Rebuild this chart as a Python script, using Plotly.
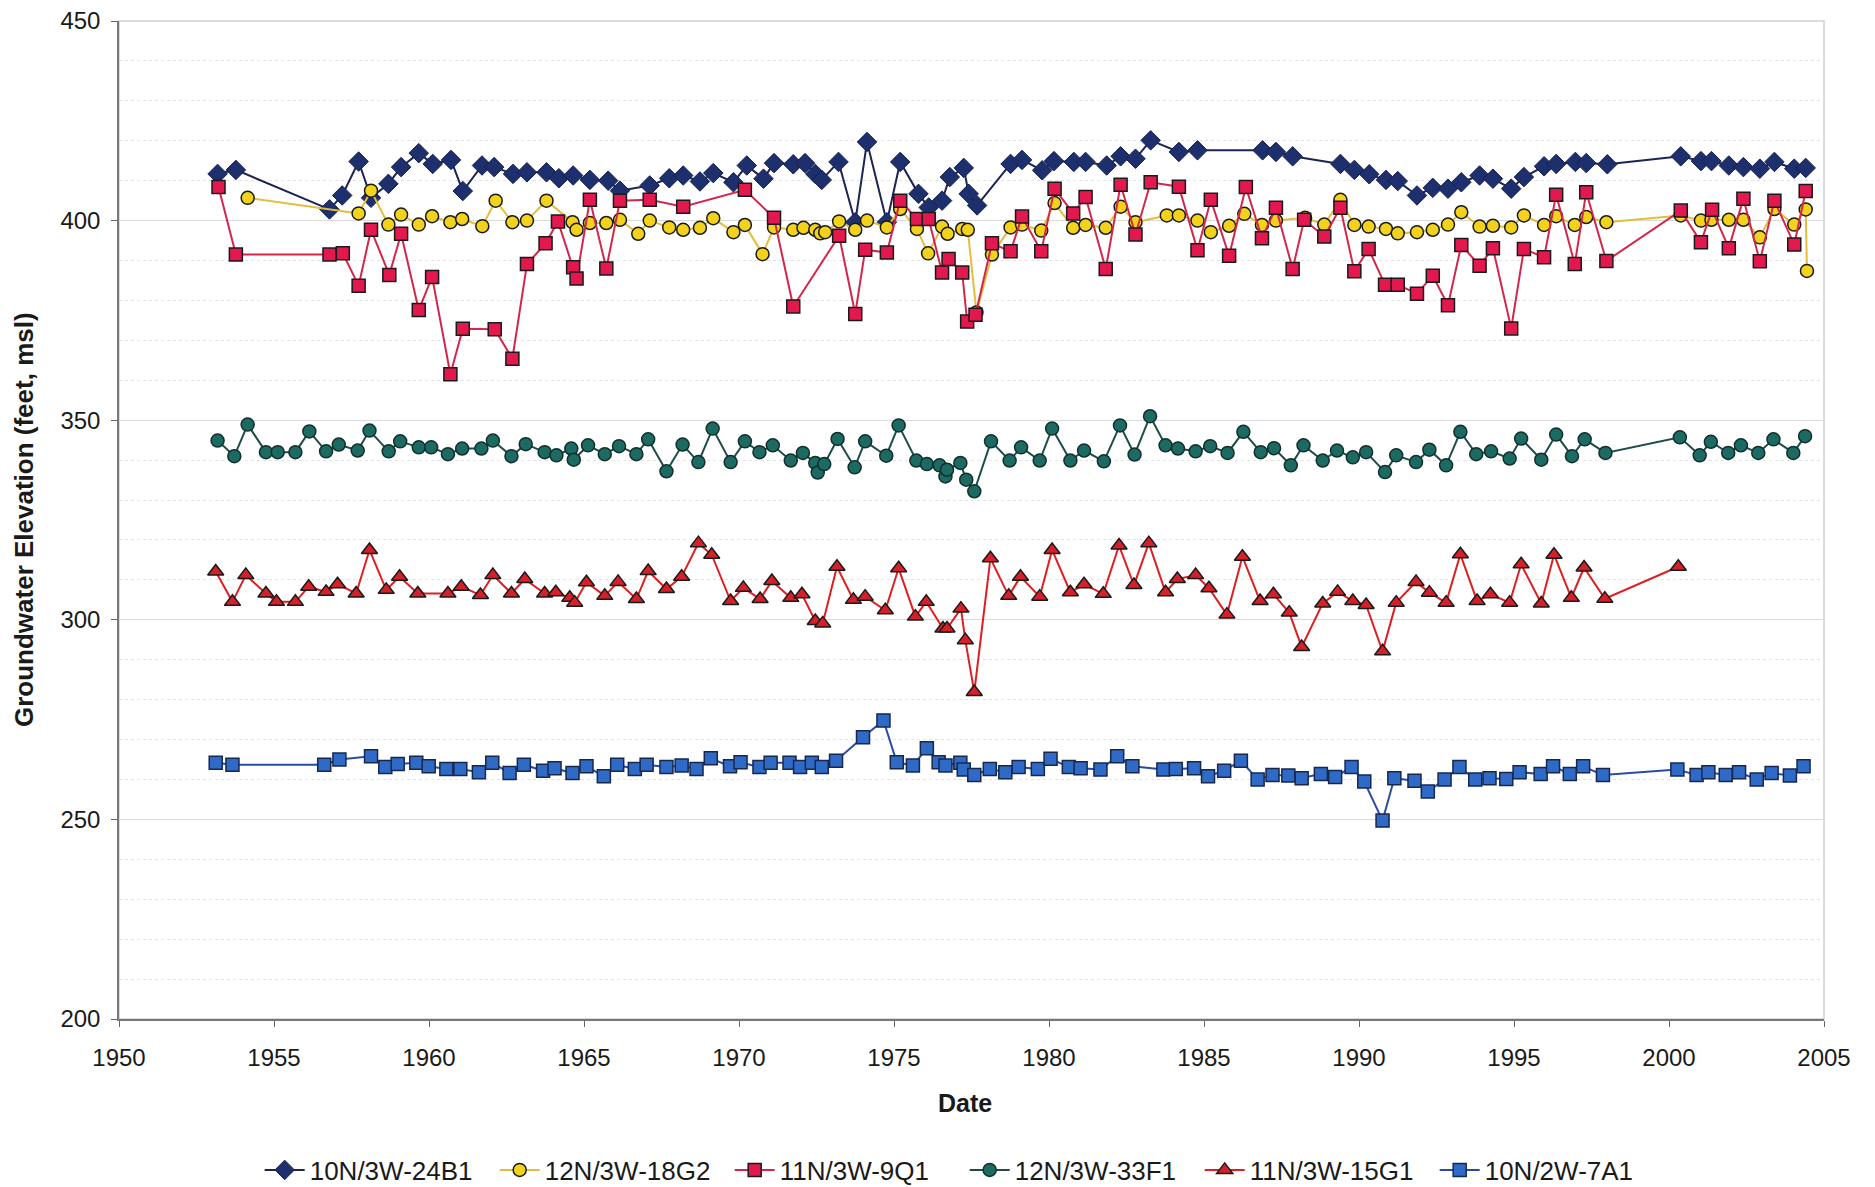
import plotly.graph_objects as go

# (year offset from 1950, elevation ft msl)
well_24B1 = [(3.18,411.7),(3.77,412.7),(6.79,402.8),(7.2,406.3),(7.73,414.8),(8.13,405.7),(8.69,409.2),(9.1,413.4),(9.67,416.9),(10.12,414.2),(10.71,415.2),(11.09,407.4),(11.71,413.8),(12.1,413.4),(12.71,411.7),(13.16,412.1),(13.79,412.1),(14.19,410.6),(14.65,411.3),(15.19,410.2),(15.78,410.0),(16.16,407.5),(17.12,408.8),(17.75,410.6),(18.2,411.3),(18.74,409.8),(19.17,411.9),(19.82,409.6),(20.25,413.8),(20.79,410.5),(21.13,414.4),(21.75,414.1),(22.13,414.4),(22.46,411.7),(22.67,410.2),(23.21,414.7),(23.75,399.6),(24.13,419.7),(24.77,399.6),(25.2,414.7),(25.79,406.7),(26.12,403.3),(26.55,405.0),(26.8,410.9),(27.25,413.2),(27.41,406.7),(27.68,403.8),(28.76,414.2),(29.13,415.2),(29.78,412.6),(30.16,414.9),(30.8,414.7),(31.18,414.7),(31.86,413.8),(32.31,416.1),(32.79,415.5),(33.28,420.1),(34.19,417.2),(34.79,417.6),(36.89,417.6),(37.32,417.2),(37.86,416.1),(39.4,414.2),(39.85,412.7),(40.33,411.6),(40.87,410.2),(41.25,409.9),(41.87,406.3),(42.38,408.2),(42.87,408.0),(43.3,409.6),(43.89,411.3),(44.32,410.5),(44.91,408.0),(45.32,410.9),(45.97,413.6),(46.36,414.2),(46.98,414.7),(47.33,414.4),(48.01,414.1),(50.38,416.1),(51.03,414.9),(51.37,414.9),(51.93,413.8),(52.4,413.4),(52.93,413.0),(53.4,414.7),(54.04,413.0),(54.41,413.2)]

well_18G2 = [(4.15,405.7),(7.73,401.8),(8.13,407.5),(8.69,399.0),(9.1,401.5),(9.67,399.0),(10.1,401.1),(10.69,399.6),(11.07,400.4),(11.72,398.6),(12.15,405.0),(12.69,399.6),(13.16,400.0),(13.79,405.0),(14.63,399.6),(14.76,397.7),(15.19,399.4),(15.72,399.4),(16.16,400.2),(16.75,396.7),(17.12,400.0),(17.75,398.3),(18.2,397.7),(18.74,398.2),(19.17,400.6),(19.82,397.1),(20.19,398.9),(20.76,391.6),(21.13,398.3),(21.75,397.7),(22.08,398.2),(22.46,397.7),(22.62,396.8),(22.78,397.1),(23.23,399.8),(23.75,397.7),(24.13,400.0),(24.77,398.3),(25.2,402.9),(25.74,397.9),(26.1,391.8),(26.55,398.5),(26.73,396.7),(27.2,397.9),(27.38,397.7),(27.66,377.0),(28.16,391.5),(28.76,398.3),(29.13,399.0),(29.75,397.5),(30.18,404.4),(30.78,398.2),(31.18,398.9),(31.83,398.2),(32.31,403.5),(32.79,399.6),(33.8,401.3),(34.19,401.3),(34.79,400.0),(35.22,397.1),(35.81,398.7),(36.3,401.7),(36.87,398.9),(37.32,400.0),(38.26,400.7),(38.88,399.0),(39.4,405.2),(39.85,398.9),(40.31,398.5),(40.87,397.9),(41.25,396.8),(41.87,397.1),(42.38,397.7),(42.87,399.0),(43.3,402.1),(43.89,398.5),(44.32,398.7),(44.91,398.3),(45.32,401.3),(45.97,398.9),(46.36,401.1),(46.96,398.9),(47.33,400.9),(47.98,399.6),(50.38,401.3),(51.03,400.0),(51.37,400.2),(51.93,400.2),(52.4,400.2),(52.93,395.8),(53.4,402.9),(54.04,399.0),(54.41,402.8),(54.45,387.4)]

well_9Q1 = [(3.21,408.4),(3.77,391.5),(6.79,391.5),(7.22,391.8),(7.73,383.7),(8.13,397.7),(8.72,386.4),(9.1,396.7),(9.67,377.6),(10.1,385.9),(10.69,361.5),(11.09,372.9),(12.12,372.8),(12.69,365.4),(13.16,389.1),(13.76,394.3),(14.16,399.8),(14.65,388.3),(14.76,385.5),(15.19,405.2),(15.72,388.0),(16.16,405.0),(17.12,405.2),(18.2,403.5),(20.19,407.7),(21.13,400.7),(21.75,378.5),(23.23,396.2),(23.75,376.6),(24.07,392.7),(24.77,392.0),(25.2,405.0),(25.74,400.4),(26.12,400.4),(26.55,387.0),(26.76,390.4),(27.2,387.0),(27.36,374.7),(27.63,376.4),(28.16,394.3),(28.76,392.3),(29.13,401.0),(29.75,392.3),(30.18,408.0),(30.78,401.8),(31.18,405.9),(31.83,387.9),(32.31,409.0),(32.79,396.5),(33.28,409.6),(34.19,408.5),(34.79,392.6),(35.22,405.2),(35.81,391.2),(36.35,408.4),(36.87,395.6),(37.32,403.2),(37.86,387.9),(38.23,400.2),(38.88,396.0),(39.4,403.2),(39.85,387.3),(40.31,392.9),(40.84,383.9),(41.25,383.9),(41.87,381.7),(42.38,386.2),(42.87,378.8),(43.3,393.9),(43.89,388.7),(44.32,393.1),(44.91,373.0),(45.32,392.9),(45.97,390.8),(46.36,406.5),(46.96,389.1),(47.33,407.1),(47.98,389.9),(50.38,402.5),(51.03,394.6),(51.39,402.7),(51.93,393.1),(52.4,405.5),(52.93,389.8),(53.4,405.0),(54.04,394.0),(54.41,407.4)]

well_33F1 = [(3.18,344.9),(3.72,341.0),(4.15,348.9),(4.74,342.0),(5.12,342.0),(5.69,342.0),(6.14,347.2),(6.68,342.2),(7.09,343.9),(7.7,342.4),(8.08,347.4),(8.7,342.2),(9.07,344.7),(9.67,343.2),(10.07,343.2),(10.61,341.5),(11.07,342.9),(11.69,342.9),(12.06,344.9),(12.66,341.0),(13.12,344.0),(13.73,342.0),(14.11,341.2),(14.59,342.9),(14.67,340.1),(15.13,343.7),(15.67,341.5),(16.13,343.5),(16.69,341.5),(17.07,345.2),(17.66,337.2),(18.18,343.9),(18.69,339.5),(19.15,347.9),(19.73,339.5),(20.19,344.7),(20.66,342.0),(21.09,343.7),(21.67,339.9),(22.06,341.8),(22.46,339.3),(22.54,336.9),(22.75,339.0),(23.18,345.3),(23.73,338.2),(24.07,344.7),(24.75,341.1),(25.15,348.7),(25.72,339.9),(26.06,339.0),(26.47,338.7),(26.66,335.9),(26.71,337.6),(27.14,339.3),(27.33,335.1),(27.59,332.2),(28.13,344.7),(28.73,339.9),(29.1,343.2),(29.7,339.9),(30.1,347.9),(30.69,339.9),(31.13,342.4),(31.77,339.7),(32.29,348.7),(32.76,341.4),(33.26,351.0),(33.76,343.7),(34.16,342.9),(34.73,342.2),(35.2,343.5),(35.76,341.8),(36.27,347.1),(36.83,342.0),(37.26,343.0),(37.8,338.7),(38.21,343.7),(38.83,339.9),(39.29,342.4),(39.8,340.7),(40.23,342.0),(40.84,337.0),(41.2,341.2),(41.84,339.5),(42.27,342.6),(42.81,338.7),(43.27,347.1),(43.78,341.5),(44.26,342.2),(44.86,340.4),(45.23,345.4),(45.88,340.1),(46.36,346.4),(46.87,341.0),(47.28,345.2),(47.95,341.8),(50.35,345.7),(50.99,341.2),(51.35,344.6),(51.91,341.8),(52.32,343.7),(52.88,341.8),(53.37,345.2),(54.01,341.8),(54.39,346.0)]

well_15G1 = [(3.12,312.1),(3.66,304.5),(4.09,311.2),(4.74,306.6),(5.08,304.5),(5.69,304.5),(6.12,308.3),(6.68,307.0),(7.05,308.9),(7.65,306.6),(8.08,317.5),(8.62,307.5),(9.05,310.8),(9.64,306.6),(10.61,306.6),(11.04,308.3),(11.66,306.2),(12.06,311.2),(12.66,306.6),(13.09,310.2),(13.73,306.6),(14.09,306.9),(14.54,305.5),(14.7,304.3),(15.08,309.4),(15.67,306.0),(16.1,309.5),(16.69,305.2),(17.07,312.2),(17.66,307.7),(18.15,310.8),(18.69,319.2),(19.12,316.3),(19.73,304.7),(20.14,308.0),(20.68,305.2),(21.06,309.7),(21.67,305.5),(22.03,306.4),(22.46,299.7),(22.7,299.1),(23.16,313.3),(23.69,305.0),(24.07,305.8),(24.72,302.4),(25.15,312.9),(25.69,300.8),(26.04,304.5),(26.58,297.8),(26.71,297.8),(27.16,302.8),(27.3,294.9),(27.59,281.9),(28.11,315.4),(28.7,306.0),(29.08,310.8),(29.7,305.8),(30.1,317.5),(30.69,306.9),(31.13,308.9),(31.75,306.5),(32.26,318.6),(32.74,308.7),(33.22,319.2),(33.76,306.9),(34.14,310.2),(34.73,311.2),(35.16,307.9),(35.74,301.3),(36.24,315.8),(36.81,304.7),(37.24,306.4),(37.75,301.8),(38.15,293.2),(38.83,304.1),(39.31,307.0),(39.8,304.7),(40.23,303.7),(40.76,292.1),(41.2,304.3),(41.84,309.5),(42.27,306.8),(42.81,304.3),(43.27,316.4),(43.81,304.7),(44.24,306.4),(44.86,304.3),(45.23,313.9),(45.88,304.1),(46.29,316.3),(46.85,305.5),(47.26,313.1),(47.93,305.3),(50.3,313.3)]

well_7A1 = [(3.12,264.2),(3.66,263.7),(6.62,263.7),(7.11,265.0),(8.13,265.8),(8.59,263.1),(8.99,263.9),(9.59,264.2),(9.99,263.3),(10.56,262.6),(11.01,262.6),(11.61,261.8),(12.04,264.2),(12.6,261.6),(13.06,263.7),(13.68,262.2),(14.05,262.8),(14.63,261.6),(15.08,263.3),(15.64,260.8),(16.07,263.7),(16.64,262.6),(17.02,263.7),(17.66,263.1),(18.15,263.5),(18.63,262.6),(19.09,265.3),(19.71,263.3),(20.05,264.3),(20.66,263.1),(21.02,264.2),(21.63,264.2),(21.97,263.1),(22.35,264.2),(22.67,263.1),(23.13,264.7),(24.0,270.6),(24.66,274.8),(25.09,264.3),(25.61,263.5),(26.06,267.8),(26.44,264.3),(26.66,263.5),(27.14,264.2),(27.25,262.5),(27.59,261.1),(28.09,262.6),(28.59,261.8),(29.02,263.1),(29.64,262.6),(30.05,265.2),(30.64,263.1),(31.02,262.8),(31.66,262.5),(32.2,265.8),(32.69,263.3),(33.69,262.5),(34.09,262.6),(34.68,262.8),(35.13,260.8),(35.65,262.2),(36.19,264.7),(36.73,260.0),(37.21,261.1),(37.72,261.0),(38.15,260.3),(38.77,261.4),(39.23,260.6),(39.76,263.1),(40.17,259.5),(40.76,249.7),(41.14,260.3),(41.79,259.7),(42.22,257.0),(42.76,260.0),(43.24,263.1),(43.75,260.0),(44.21,260.3),(44.75,260.1),(45.18,261.8),(45.86,261.4),(46.26,263.3),(46.8,261.4),(47.23,263.3),(47.87,261.1),(50.27,262.5),(50.89,261.1),(51.27,261.8),(51.83,261.1),(52.26,261.8),(52.83,260.0),(53.31,261.6),(53.9,261.0),(54.34,263.3)]

BASE_YEAR = 1950
x_ticks = list(range(1950, 2006, 5))
y_ticks = list(range(200, 451, 50))

series = [
    ("10N/3W-24B1", well_24B1, "diamond", 15, "#1E2F6E", "#16214F", "#1B2452", 1.0),
    ("12N/3W-18G2", well_18G2, "circle", 13, "#F3D21C", "#1A1A1A", "#E3BE3C", 1.5),
    ("11N/3W-9Q1", well_9Q1, "square", 13, "#E2184E", "#1A1A1A", "#D4264A", 1.5),
    ("12N/3W-33F1", well_33F1, "circle", 13, "#1D6A62", "#10302C", "#1E4D48", 1.5),
    ("11N/3W-15G1", well_15G1, "triangle-up", 14, "#D5202A", "#1A1A1A", "#E01E22", 1.5),
    ("10N/2W-7A1", well_7A1, "square", 13, "#2F6AC6", "#17284F", "#2A4AA6", 1.5),
]

fig = go.Figure()
for name, data, sym, size, fill, edge, line, ew in series:
    fig.add_trace(go.Scatter(
        x=[BASE_YEAR + d[0] for d in data],
        y=[d[1] for d in data],
        mode="lines+markers",
        name=name,
        line=dict(color=line, width=2),
        marker=dict(symbol=sym, size=size, color=fill, line=dict(color=edge, width=ew)),
    ))

font = "Liberation Sans, Arial, sans-serif"
fig.update_layout(
    width=1875, height=1200,
    margin=dict(l=111, r=59, t=13, b=189),
    paper_bgcolor="white", plot_bgcolor="white",
    font=dict(family=font, size=24, color="#1a1a1a"),
    showlegend=True,
    legend=dict(orientation="h", x=0.496, xanchor="center", y=-0.1513, yanchor="middle",
                font=dict(size=26, color="#1a1a1a"), entrywidth=180, entrywidthmode="pixels",
                itemwidth=40, tracegroupgap=0, borderwidth=0),
    xaxis=dict(range=[1950, 2005], tickvals=x_ticks, ticks="outside", ticklen=6,
               tickcolor="#666", showline=True, linecolor="#777", linewidth=1.5,
               showgrid=False, zeroline=False, ticklabelstandoff=10,
               ticklabeloverflow="allow", automargin=False,
               tickfont=dict(size=24, color="#1a1a1a")),
    yaxis=dict(range=[200, 450], tickvals=y_ticks, ticks="outside", ticklen=6,
               tickcolor="#666", showline=True, linecolor="#777", linewidth=1.5,
               showgrid=True, gridcolor="#D9D9D9", gridwidth=1, zeroline=False,
               ticklabelstandoff=6, ticklabeloverflow="allow", automargin=False,
               minor=dict(dtick=10, showgrid=True, gridcolor="#E3E3E3", griddash="dot",
                          gridwidth=1, ticks=""),
               tickfont=dict(size=24, color="#1a1a1a")),
    shapes=[dict(type="rect", xref="paper", yref="paper", x0=0, x1=1, y0=0, y1=1,
                 line=dict(color="#CFCFCF", width=1.5), layer="below")],
    annotations=[
        dict(text="<b>Date</b>", xref="paper", yref="paper", x=0.496, y=-0.084,
             xanchor="center", yanchor="middle", showarrow=False,
             font=dict(size=25, color="#1a1a1a")),
        dict(text="<b>Groundwater Elevation (feet, msl)</b>", xref="paper", yref="paper",
             x=-0.0557, y=0.5, xanchor="center", yanchor="middle", textangle=-90,
             showarrow=False, font=dict(size=26, color="#1a1a1a")),
    ],
)

fig.write_html("out.html")
